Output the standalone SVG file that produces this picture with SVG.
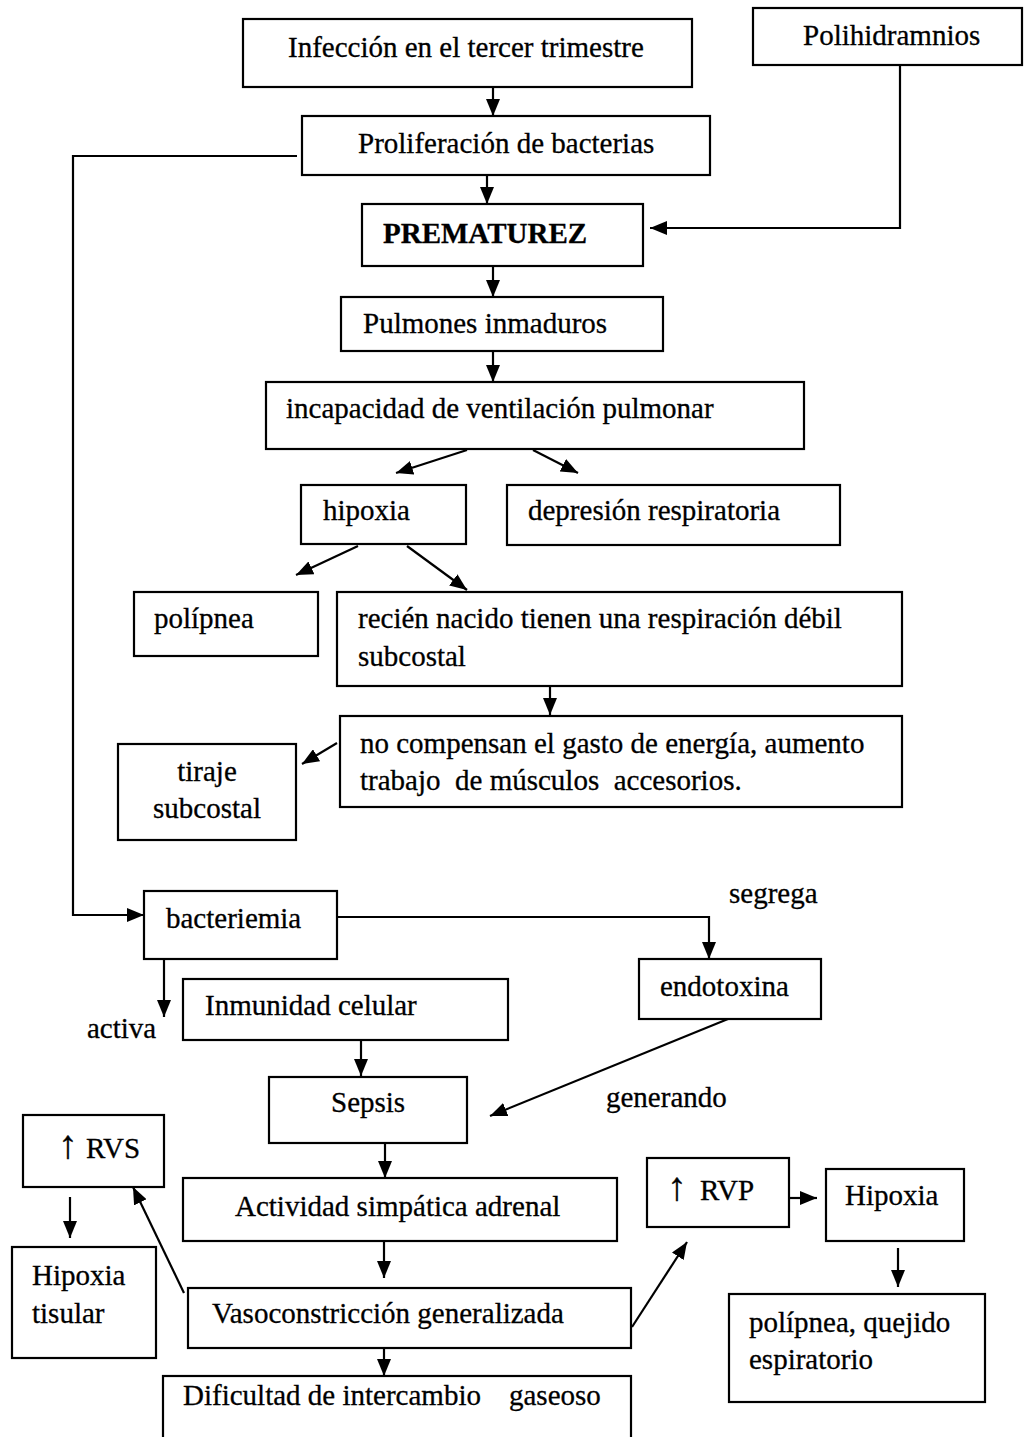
<svg xmlns="http://www.w3.org/2000/svg" width="1033" height="1437" viewBox="0 0 1033 1437">
  <style>
    text { font-family: "Liberation Serif", "Times New Roman", serif; font-size: 29px; fill: #000; stroke: #000; stroke-width: 0.3; }
    .box { fill: #fff; stroke: #000; stroke-width: 2.2; }
    .edge { fill: none; stroke: #000; stroke-width: 2.2; marker-end: url(#head); }
    .b { font-weight: bold; }
    .up { font-size: 40px; }
  </style>
  <defs>
    <marker id="head" markerUnits="userSpaceOnUse" markerWidth="17" markerHeight="14" refX="17" refY="7" orient="auto">
      <path d="M0,0 L17,7 L0,14 z" fill="#000"/>
    </marker>
  </defs>
  <rect width="1033" height="1437" fill="#fff"/>

  <!-- connectors -->
  <g id="connectors">
    <path class="edge" d="M493,87 V116"/>
    <path class="edge" d="M487,175 V204"/>
    <path class="edge" d="M493,266 V297"/>
    <path class="edge" d="M493,351 V382"/>
    <path class="edge" d="M900,65 V228 H650"/>
    <path class="edge" d="M467,450 L396,473"/>
    <path class="edge" d="M533,450 L578,473"/>
    <path class="edge" d="M358,546 L296,575"/>
    <path class="edge" d="M407,546 L467,590"/>
    <path class="edge" d="M550,686 V715"/>
    <path class="edge" d="M337,743 L302,764"/>
    <path class="edge" d="M297,156 H73 V915 H144"/>
    <path class="edge" d="M338,917 H709 V959"/>
    <path class="edge" d="M164,959 V1017"/>
    <path class="edge" d="M361,1040 V1076"/>
    <path class="edge" d="M728,1019 L490,1116"/>
    <path class="edge" d="M385,1143 V1178"/>
    <path class="edge" d="M70,1197 V1238"/>
    <path class="edge" d="M384,1241 V1278"/>
    <path class="edge" d="M184,1293 L133,1187"/>
    <path class="edge" d="M384,1348 V1376"/>
    <path class="edge" d="M632,1327 L687,1242"/>
    <path class="edge" d="M789,1198 H817"/>
    <path class="edge" d="M898,1248 V1287"/>
  </g>

  <!-- edge labels -->
  <g id="labels">
    <text x="729" y="903">segrega</text>
    <text x="87" y="1038">activa</text>
    <text x="606" y="1107">generando</text>
  </g>

  <g id="n-infeccion">
    <rect class="box" x="243" y="19" width="449" height="68"/>
    <text x="288" y="57">Infección en el tercer trimestre</text>
  </g>
  <g id="n-polihidramnios">
    <rect class="box" x="753" y="8" width="269" height="57"/>
    <text x="803" y="45">Polihidramnios</text>
  </g>
  <g id="n-proliferacion">
    <rect class="box" x="302" y="116" width="408" height="59"/>
    <text x="358" y="153">Proliferación de bacterias</text>
  </g>
  <g id="n-prematurez">
    <rect class="box" x="362" y="204" width="281" height="62"/>
    <text class="b" x="383" y="243">PREMATUREZ</text>
  </g>
  <g id="n-pulmones">
    <rect class="box" x="341" y="297" width="322" height="54"/>
    <text x="363" y="333">Pulmones inmaduros</text>
  </g>
  <g id="n-incapacidad">
    <rect class="box" x="266" y="382" width="538" height="67"/>
    <text x="286" y="418">incapacidad de ventilación pulmonar</text>
  </g>
  <g id="n-hipoxia">
    <rect class="box" x="301" y="485" width="165" height="59"/>
    <text x="323" y="520">hipoxia</text>
  </g>
  <g id="n-depresion">
    <rect class="box" x="507" y="485" width="333" height="60"/>
    <text x="528" y="520">depresión respiratoria</text>
  </g>
  <g id="n-polipnea">
    <rect class="box" x="134" y="592" width="184" height="64"/>
    <text x="154" y="628">polípnea</text>
  </g>
  <g id="n-recien">
    <rect class="box" x="337" y="592" width="565" height="94"/>
    <text x="358" y="628">recién nacido tienen una respiración débil</text>
    <text x="358" y="666">subcostal</text>
  </g>
  <g id="n-compensan">
    <rect class="box" x="340" y="716" width="562" height="91"/>
    <text x="360" y="753">no compensan el gasto de energía, aumento</text>
    <text x="360" y="790" xml:space="preserve">trabajo  de músculos  accesorios.</text>
  </g>
  <g id="n-tiraje">
    <rect class="box" x="118" y="744" width="178" height="96"/>
    <text x="207" y="781" text-anchor="middle">tiraje</text>
    <text x="207" y="818" text-anchor="middle">subcostal</text>
  </g>
  <g id="n-bacteriemia">
    <rect class="box" x="144" y="891" width="193" height="68"/>
    <text x="166" y="928">bacteriemia</text>
  </g>
  <g id="n-endotoxina">
    <rect class="box" x="639" y="959" width="182" height="60"/>
    <text x="660" y="996">endotoxina</text>
  </g>
  <g id="n-inmunidad">
    <rect class="box" x="183" y="979" width="325" height="61"/>
    <text x="205" y="1015">Inmunidad celular</text>
  </g>
  <g id="n-sepsis">
    <rect class="box" x="269" y="1077" width="198" height="66"/>
    <text x="331" y="1112">Sepsis</text>
  </g>
  <g id="n-rvs">
    <rect class="box" x="23" y="1115" width="141" height="72"/>
    <text y="1158"><tspan class="up" x="58">↑</tspan><tspan x="86">RVS</tspan></text>
  </g>
  <g id="n-hipoxia-tisular">
    <rect class="box" x="12" y="1247" width="144" height="111"/>
    <text x="32" y="1285">Hipoxia</text>
    <text x="32" y="1323">tisular</text>
  </g>
  <g id="n-actividad">
    <rect class="box" x="183" y="1178" width="434" height="63"/>
    <text x="235" y="1216">Actividad simpática adrenal</text>
  </g>
  <g id="n-vasoconstriccion">
    <rect class="box" x="188" y="1288" width="443" height="60"/>
    <text x="212" y="1323">Vasoconstricción generalizada</text>
  </g>
  <g id="n-dificultad">
    <rect class="box" x="163" y="1376" width="468" height="75"/>
    <text y="1405"><tspan x="183">Dificultad de intercambio</tspan><tspan x="509">gaseoso</tspan></text>
  </g>
  <g id="n-rvp">
    <rect class="box" x="647" y="1158" width="142" height="69"/>
    <text y="1200"><tspan class="up" x="667">↑</tspan><tspan x="700">RVP</tspan></text>
  </g>
  <g id="n-hipoxia2">
    <rect class="box" x="826" y="1169" width="138" height="72"/>
    <text x="845" y="1205">Hipoxia</text>
  </g>
  <g id="n-polipnea-quejido">
    <rect class="box" x="729" y="1294" width="256" height="108"/>
    <text x="749" y="1332">polípnea, quejido</text>
    <text x="749" y="1369">espiratorio</text>
  </g>
</svg>
